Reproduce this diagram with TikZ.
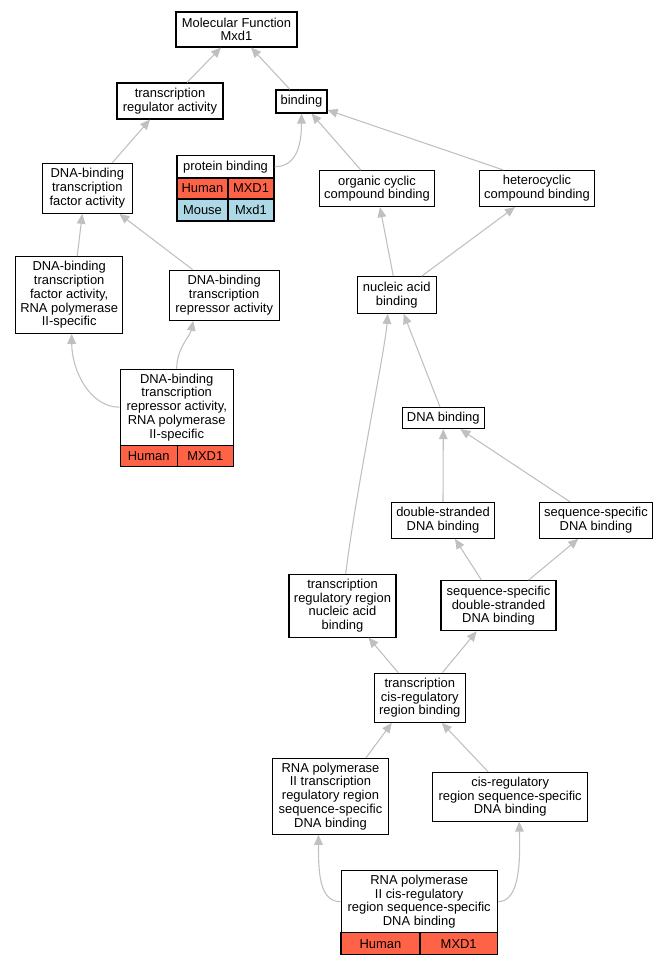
\documentclass[tikz,border=0pt]{standalone}
\usepackage{fontspec}
\setmainfont{Liberation Sans}
\usetikzlibrary{arrows.meta,calc}
\definecolor{edgegray}{RGB}{192,192,192}
\definecolor{hred}{RGB}{255,99,71}
\definecolor{mblue}{RGB}{173,216,230}
\begin{document}
\begin{tikzpicture}[x=0.75pt,y=-0.75pt,
  box/.style={draw=black, line width=0.8pt, fill=white, inner sep=0pt, align=center, font=\fontsize{9.7}{10.3}\selectfont},
  sz/.style 2 args={minimum width=#1*0.75pt, minimum height=#2*0.75pt},
  hum/.style={box, fill=hred},
  mou/.style={box, fill=mblue},
  edge/.style={draw=edgegray, line width=0.8pt, -{Triangle[length=7.5pt,width=6.5pt]}}]
\useasboundingbox (0,0) rectangle (671,965);
\fill[white] (0,0) rectangle (671,965);
% nodes
\node[box,sz={121}{35}] (mf) at (236.5,29.5) {Molecular Function\\Mxd1};
\node[box,sz={106}{36}] (tra) at (170,101) {transcription\\regulator activity};
\node[box,sz={51}{23}] (bind) at (301.5,101.5) {binding};
\node[box,sz={97}{22.5}] (pb) at (225.5,166.75) {protein binding};
\node[hum,sz={51}{21}] (pbh) at (202.5,188.5) {Human};
\node[hum,sz={46}{21}] (pbg) at (251,188.5) {MXD1};
\node[mou,sz={51}{22}] (pbm) at (202.5,210) {Mouse};
\node[mou,sz={46}{22}] (pbmg) at (251,210) {Mxd1};
\node[box,sz={115}{36}] (occ) at (377,188.7) {organic cyclic\\compound binding};
\node[box,sz={115}{36}] (het) at (537,188.5) {heterocyclic\\compound binding};
\node[box,sz={90}{50}] (dbtf) at (87.3,188.3) {DNA-binding\\transcription\\factor activity};
\node[box,sz={107}{76.6}] (dbtf2) at (69.2,295) {DNA-binding\\transcription\\factor activity,\\RNA polymerase\\II-specific};
\node[box,sz={110}{50}] (dbtr) at (224.2,295.2) {DNA-binding\\transcription\\repressor activity};
\node[box,sz={113.3}{76.3}] (dbtr2) at (176.7,407.2) {DNA-binding\\transcription\\repressor activity,\\RNA polymerase\\II-specific};
\node[hum,sz={57.3}{20.7}] (dbtrh) at (148.7,455.7) {Human};
\node[hum,sz={56}{20.7}] (dbtrg) at (205.3,455.7) {MXD1};
\node[box,sz={78.7}{36.7}] (nab) at (396.7,295) {nucleic acid\\binding};
\node[box,sz={82}{21.3}] (dnab) at (443.3,418) {DNA binding};
\node[box,sz={102.6}{36}] (dsb) at (443,520.3) {double-stranded\\DNA binding};
\node[box,sz={112.6}{36}] (ssdb) at (596,520.3) {sequence-specific\\DNA binding};
\node[box,sz={107}{62.7}] (trr) at (342.5,605.7) {transcription\\regulatory region\\nucleic acid\\binding};
\node[box,sz={115}{50}] (ssds) at (498.5,605.7) {sequence-specific\\double-stranded\\DNA binding};
\node[box,sz={91}{49}] (tcrb) at (419.8,697.8) {transcription\\cis-regulatory\\region binding};
\node[box,sz={115.7}{76}] (rtrr) at (330.5,796.3) {RNA polymerase\\II transcription\\regulatory region\\sequence-specific\\DNA binding};
\node[box,sz={155}{48.7}] (cis) at (510.2,796.7) {cis-regulatory\\region sequence-specific\\DNA binding};
\node[box,sz={156.3}{62}] (rcis) at (419.2,901.7) {RNA polymerase\\II cis-regulatory\\region sequence-specific\\DNA binding};
\node[hum,sz={79}{22.3}] (rcish) at (380.5,943.8) {Human};
\node[hum,sz={77.3}{22.3}] (rcisg) at (458.7,943.8) {MXD1};
% edges
\draw[edge] ($(tra.north)+(17,0)$) -- ($(mf.south)+(-15.5,0)$);
\draw[edge] ($(bind.north)+(-11.5,0)$) -- ($(mf.south)+(14.5,0)$);
\draw[edge] ($(dbtf.north)+(25,0)$) -- ($(tra.south)+(-20,0)$);
\draw[edge] (pb.east) .. controls ($(pb.east)+(19,0)$) and ($(bind.south)+(0,37)$) .. (bind.south);
\draw[edge] ($(occ.north)+(-16,0)$) -- ($(bind.south)+(10,0)$);
\draw[edge] ($(het.north)+(-33.7,0)$) -- ($(bind.east)+(0,8.5)$);
\draw[edge] ($(dbtf2.north)+(8,0)$) -- ($(dbtf.south)+(-5,0)$);
\draw[edge] ($(dbtr.north)+(-31.5,0)$) -- ($(dbtf.south)+(32,0)$);
\draw[edge] (dbtr2.west) .. controls ($(dbtr2.west)+(-30,0)$) and ($(dbtf2.south)+(2.5,36)$) .. ($(dbtf2.south)+(2.5,0)$);
\draw[edge] (dbtr2.north) .. controls ($(dbtr2.north)+(0,-20)$) and ($(dbtr.south)+(-34,15)$) .. ($(dbtr.south)+(-31,0)$);
\draw[edge] ($(nab.north)+(-3.4,0)$) -- ($(occ.south)+(3,0)$);
\draw[edge] ($(nab.north)+(25,0)$) -- ($(het.south)+(-22,0)$);
\draw[edge] ($(dnab.north)+(-3.3,0)$) -- ($(nab.south)+(7,0)$);
\draw[edge] ($(trr.north)+(3.2,0)$) .. controls ($(trr.north)+(13.5,-84)$) and ($(nab.south)+(-11.7,37)$) .. ($(nab.south)+(-9,0)$);
\draw[edge] (dsb.north) -- (dnab.south);
\draw[edge] ($(ssdb.north)+(-26,0)$) -- ($(dnab.south)+(17,0)$);
\draw[edge] ($(ssds.north)+(-17,0)$) -- ($(dsb.south)+(12,0)$);
\draw[edge] ($(ssds.north)+(30,0)$) -- ($(ssdb.south)+(-17.7,0)$);
\draw[edge] ($(tcrb.north)+(-21.5,0)$) -- ($(trr.south)+(26,0)$);
\draw[edge] ($(tcrb.north)+(22.5,0)$) -- ($(ssds.south)+(-21.8,0)$);
\draw[edge] ($(rtrr.north)+(35.5,0)$) -- ($(tcrb.south)+(-28,0)$);
\draw[edge] ($(cis.north)+(-22,0)$) -- ($(tcrb.south)+(22,0)$);
\draw[edge] (rcis.west) .. controls ($(rcis.west)+(-22,0)$) and ($(rtrr.south)+(-12,35)$) .. ($(rtrr.south)+(-12,0)$);
\draw[edge] (rcis.east) .. controls ($(rcis.east)+(22,0)$) and ($(cis.south)+(10,40)$) .. ($(cis.south)+(9,0)$);
\end{tikzpicture}
\end{document}
